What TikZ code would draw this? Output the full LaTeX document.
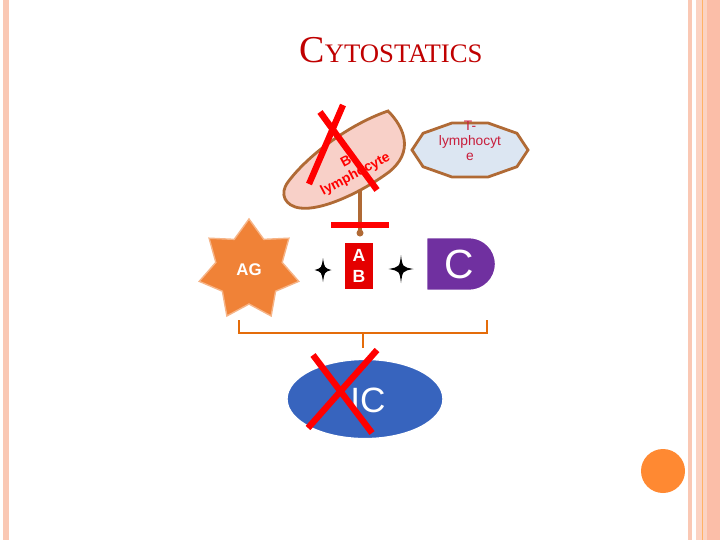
\documentclass[tikz,border=0pt]{standalone}
\usepackage{fontspec}
\usepackage{xcolor}
\usepackage{tikz}
\usetikzlibrary{shapes.geometric, shapes.misc}
\newfontfamily\arialfont{Liberation Sans}
\newfontfamily\timesfont{Liberation Serif}
\definecolor{slidesalmon}{RGB}{250,200,180}
\definecolor{slidesalmondark}{RGB}{251,190,168}
\definecolor{titlered}{RGB}{192,0,0}
\definecolor{leafpink}{RGB}{248,208,200}
\definecolor{cellbrown}{RGB}{176,106,53}
\definecolor{tcellblue}{RGB}{220,230,242}
\definecolor{tcelltext}{RGB}{200,30,60}
\definecolor{agorange}{RGB}{240,130,55}
\definecolor{abred}{RGB}{228,0,0}
\definecolor{cpurple}{RGB}{112,48,160}
\definecolor{icblue}{RGB}{55,100,190}
\definecolor{bracketorange}{RGB}{228,108,10}
\definecolor{dotorange}{RGB}{255,137,50}
\tikzset{
  crossout/.style={draw=red, line width=4.5pt},
  whitelabel/.style={text=white, font=\arialfont},
  bracket/.style={draw=bracketorange, line width=2pt},
}
\begin{document}
\begin{tikzpicture}[x=0.025cm, y=-0.025cm]

		\useasboundingbox (0,0) rectangle (720,540);
		\fill[white] (0,0) rectangle (720,540);

		\fill[slidesalmon] (3,0) rectangle (9,540);
		\fill[slidesalmon] (688,0) rectangle (692,540);
		\fill[slidesalmon!80!white] (696,0) rectangle (720,540);
		\fill[slidesalmondark] (707,0) rectangle (720,540);
		\draw[orange!60, line width=0.6pt] (702,0) -- (702,540);

		\node[text=titlered, font=\timesfont] (title) at (391,50)
			{{\fontsize{27}{29}\selectfont C}{\fontsize{19}{21}\selectfont YTOSTATICS}};

		\draw[cellbrown, line width=2pt, fill=leafpink]
			(388,111) .. controls (405,128) and (414,152) .. (389,172)
			.. controls (362,192) and (322,211) .. (300,208)
			.. controls (285,206) and (279,194) .. (288,182)
			.. controls (308,155) and (350,124) .. (388,111) -- cycle;
		\coordinate (bcell) at (360,190);
		\node[rotate=28, text=red, font=\arialfont\bfseries\fontsize{9.8}{11}\selectfont, align=center]
			(blabel) at (352,168) {B-\\lymphocyte};

		\node[draw=cellbrown, line width=2pt, fill=tcellblue, regular polygon, regular polygon sides=10,
			minimum size=2.9cm, xscale=1, yscale=0.49, inner sep=0pt] (tcell) at (470,150) {};
		\node[text=tcelltext, font=\arialfont\fontsize{9.8}{10.8}\selectfont, align=center]
			(tlabel) at (470,141) {T-\\lymphocyt\\e};

		\coordinate (inhib) at (360,233);
		\draw[cellbrown, line width=3pt] (bcell) -- (inhib);
		\fill[cellbrown] (inhib) circle (3.5);
		\draw[red, line width=4.5pt] (331,225) -- (389,225);

		\draw[crossout] (320,112) -- (377,190);
		\draw[crossout] (343,105) -- (309,184);

		\node[star, star points=7, star point ratio=1.5, minimum size=2.55cm, inner sep=0pt,
			fill=agorange, draw=agorange!60!white, line width=1pt] (ag) at (249,270) {};
		\node[whitelabel, font=\arialfont\bfseries\fontsize{12}{13}\selectfont] at (ag) {AG};

		\node[fill=abred, draw=white, line width=1pt, minimum width=0.72cm, minimum height=1.2cm,
			inner sep=0pt, whitelabel, font=\arialfont\bfseries\fontsize{12.5}{15}\selectfont, align=center]
			(ab) at (359,266) {A\\B};

		\node[rounded rectangle, rounded rectangle left arc=none, fill=cpurple, draw=white, line width=1pt,
			minimum width=1.72cm, minimum height=1.32cm, inner sep=0pt, whitelabel,
			font=\arialfont\fontsize{29}{30}\selectfont] (c) at (459,264) {C};

		\foreach \cx/\cy/\a/\b in {323/270/8.5/12, 401/269/12.5/14} {
				\fill[black, shift={(\cx,\cy)}]
					(0,-\b) .. controls (1.5,-2) .. (\a,0)
					.. controls (1.5,2) .. (0,\b)
					.. controls (-1.5,2) .. (-\a,0)
					.. controls (-1.5,-2) .. (0,-\b) -- cycle;
			}

		\node[ellipse, fill=icblue, draw=white, line width=1pt, minimum width=3.9cm, minimum height=1.98cm,
			inner sep=0pt] (ic) at (365,399) {};
		\node[whitelabel, font=\arialfont\fontsize{25}{26}\selectfont] at (368,400) {IC};

		\coordinate (icjoin) at (363,348);
		\draw[bracket] (239,320) -- (239,333) -- (487,333) -- (487,320);
		\draw[bracket] (363,333) -- (icjoin);

		\draw[crossout] (313,355) -- (372,433);
		\draw[crossout] (377,350) -- (308,428);

		\fill[dotorange] (663,471) circle (22);
	\end{tikzpicture}
\end{document}
